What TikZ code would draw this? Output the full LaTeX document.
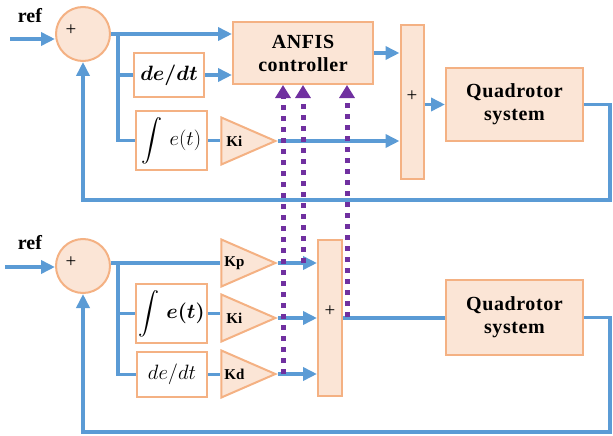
\documentclass[tikz,border=0pt]{standalone}
\usepackage{amsmath}
\usepackage[no-math]{fontspec}
\setmainfont{Liberation Serif}
\usepackage{bm}
\DeclareFontShape{OMX}{cmex}{m}{n}{<->cmex10}{}
\usetikzlibrary{arrows.meta,shapes.geometric,calc}

\definecolor{sigblue}{HTML}{5B9BD5}
\definecolor{boxline}{HTML}{F4B183}
\definecolor{boxfill}{HTML}{FBE5D6}
\definecolor{tunepurple}{HTML}{7030A0}

\tikzset{
	sig/.style={line width=3.5pt, color=sigblue},
	sigarr/.style={sig, -{Triangle[length=14pt,width=13pt]}},
	blk/.style={draw=boxline, fill=boxfill, line width=2pt, inner sep=0pt},
	mathbox/.style={draw=boxline, fill=white, line width=2pt, inner sep=0pt, font=\fontsize{21}{24}\selectfont},
	sumc/.style={blk, circle, minimum size=54pt},
	sumbar/.style={blk, minimum width=23pt},
	plant/.style={blk, minimum width=137pt, align=center, font=\fontsize{20}{23}\selectfont\bfseries\addfontfeatures{LetterSpace=3}},
	gain/.style={blk, isosceles triangle, isosceles triangle stretches, minimum width=47pt, minimum height=54pt, anchor=apex},
	glbl/.style={font=\fontsize{15}{17}\selectfont\bfseries},
	pluslbl/.style={font=\fontsize{19}{21}\selectfont},
	reflbl/.style={font=\fontsize{20}{22}\selectfont\bfseries},
	tune/.style={line width=5pt, color=tunepurple, dash pattern=on 5pt off 6pt,
		-{Triangle[length=13pt,width=15pt]}}
}

\begin{document}
\begin{tikzpicture}[x=1pt,y=-1pt]
	\useasboundingbox (0,0) rectangle (613,436);
	
	% ANFIS loop
	\node[reflbl] (ref1) at (30,16) {ref};
	\coordinate (in1) at (10,39);
	\node[sumc] (s1) at (83,34) {}; \node[pluslbl] (p1) at (71,30) {+};
	\node[plant, minimum width=140pt, minimum height=62pt] (anfis) at (303,53) {ANFIS\\controller};
	\node[mathbox, minimum width=70pt, minimum height=44pt] (dedt1) at (169,75) {$\bm{de/dt}$};
	\node[mathbox, minimum width=71pt, minimum height=59pt] (int1) at (171.5,140.5) {$\displaystyle\int\, e(t)$};
	\node[gain] (ki1) at (278,141) {}; \node[glbl] (gk1) at ([xshift=14pt]ki1.west) {Ki};
	\node[sumbar, minimum height=154pt] (sb1) at (412,102) {}; \node[pluslbl] (p3) at (412,96) {+};
	\node[plant, minimum height=73pt] (q1) at (514.5,104.5) {Quadrotor\\system};
	\coordinate (br1) at (118,34);
	\coordinate (fb1) at (610,200);
	
	\draw[sigarr] (in1) -- (in1 -| s1.west);
	\draw[sigarr] (s1.east) -- (s1.east -| anfis.west);
	\draw[sig] (br1) |- (int1.west);
	\draw[sig] (br1 |- dedt1.west) -- (dedt1.west);
	\draw[sigarr] (dedt1.east) -- (dedt1.east -| anfis.west);
	\draw[sig] (int1.east) -- (int1.east -| ki1.west);
	\draw[sigarr] (ki1.apex) -- (ki1.apex -| sb1.west);
	\draw[sigarr] (anfis.east) -- (anfis.east -| sb1.west);
	\draw[sigarr] (sb1.east |- q1.west) -- (q1.west);
	\draw[sigarr] (q1.east) -| (fb1) -| (s1.south);
	
	% PID loop
	\node[reflbl] (ref2) at (30,243) {ref};
	\coordinate (in2) at (5,267);
	\node[sumc] (s2) at (83,266) {}; \node[pluslbl] (p2) at (71,262) {+};
	\node[gain] (kp2) at (278,263) {}; \node[glbl] (gk2) at ([xshift=14pt]kp2.west) {Kp};
	\node[mathbox, minimum width=71pt, minimum height=59pt] (int2) at (171.5,313.5) {$\displaystyle\int\, \bm{e(t)}$};
	\node[gain] (ki2) at (278,318) {}; \node[glbl] (gk3) at ([xshift=14pt]ki2.west) {Ki};
	\node[mathbox, minimum width=70pt, minimum height=45pt] (dedt2) at (172,374.5) {$de/dt$};
	\node[gain] (kd2) at (278,374) {}; \node[glbl] (gk4) at ([xshift=14pt]kd2.west) {Kd};
	\node[sumbar, minimum width=24pt, minimum height=156pt] (sb2) at (330,318) {}; \node[pluslbl] (p4) at (330,311) {+};
	\node[plant, minimum height=75pt] (q2) at (514.5,317.5) {Quadrotor\\system};
	\coordinate (br2) at (118,263);
	\coordinate (fb2) at (610,432);
	
	\draw[sigarr] (in2) -- (in2 -| s2.west);
	\draw[sig] (s2.east |- kp2.apex) -- (kp2.apex -| kp2.west);
	\draw[sig] (br2) |- (dedt2.west);
	\draw[sig] (br2 |- int2.west) -- (int2.west);
	\draw[sig] (int2.east) -- (int2.east -| ki2.west);
	\draw[sig] (dedt2.east) -- (dedt2.east -| kd2.west);
	\draw[sigarr] (kp2.apex) -- (kp2.apex -| sb2.west);
	\draw[sigarr] (ki2.apex) -- (ki2.apex -| sb2.west);
	\draw[sigarr] (kd2.apex) -- (kd2.apex -| sb2.west);
	\draw[sig] (sb2.east) -- (sb2.east -| q2.west);
	\draw[sigarr] (q2.east) -| (fb2) -| (s2.south);
	
	% tuning of the gains
	\coordinate (t1) at (283,374);
	\coordinate (t2) at (303,263);
	\coordinate (t3) at (347,317);
	\draw[tune] (t1) -- (t1 |- anfis.south);
	\draw[tune] (t2) -- (t2 |- anfis.south);
	\draw[tune] (t3) -- (t3 |- anfis.south);
	
\end{tikzpicture}
\end{document}
